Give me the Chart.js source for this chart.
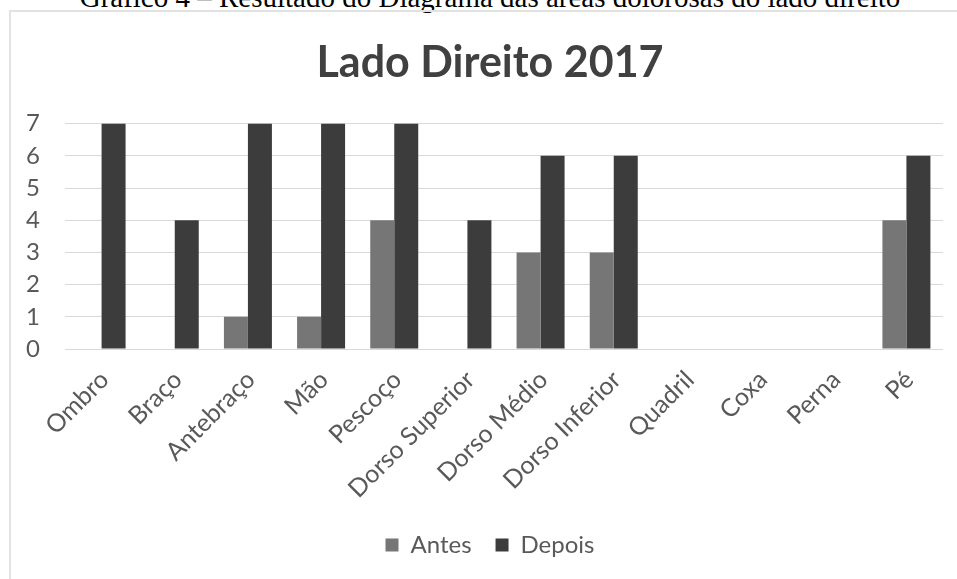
<!DOCTYPE html>
<html>
<head>
<meta charset="utf-8">
<script src="https://cdn.jsdelivr.net/npm/chart.js@4"></script>
<style>
  html, body { margin: 0; padding: 0; background: #fff; }
  body { width: 957px; height: 579px; position: relative; overflow: hidden; }
  #caption { position: absolute; left: 0; width: 980px; top: -17px; text-align: center;
    font-family: "Liberation Serif", serif; font-size: 29px; line-height: 29px; color: #000; white-space: nowrap; }
  #frame { position: absolute; left: 9px; top: 10px; width: 1000px; height: 700px;
    border-left: 2px solid #e2e2e2; border-top: 2px solid #e2e2e2; }
  #wrap { position: absolute; left: 0; top: 0; width: 957px; height: 579px; overflow: hidden; }
</style>
</head>
<body>
<div id="caption">Gráfico 4 – Resultado do Diagrama das áreas dolorosas do lado direito</div>
<div id="frame"></div>
<div id="wrap"><canvas id="c" width="963" height="579"></canvas></div>
<script>
const categories = ["Ombro", "Braço", "Antebraço", "Mão", "Pescoço", "Dorso Superior", "Dorso Médio", "Dorso Inferior", "Quadril", "Coxa", "Perna", "Pé"];
const antes = [0, 0, 1, 1, 4, 0, 3, 3, 0, 0, 0, 4];
const depois = [7, 4, 7, 7, 7, 4, 6, 6, 0, 0, 0, 6];
const yTicks = [0, 1, 2, 3, 4, 5, 6, 7];
const titleText = "Lado Direito 2017";
const seriesNames = ["Antes", "Depois"];

const FONT = "Lato";
new Chart(document.getElementById("c"), {
  type: "bar",
  data: {
    labels: categories,
    datasets: [
      { label: seriesNames[0], data: antes, backgroundColor: "#767676", borderWidth: 0,
        categoryPercentage: 0.656, barPercentage: 1.0 },
      { label: seriesNames[1], data: depois, backgroundColor: "#3c3c3c", borderWidth: 0,
        categoryPercentage: 0.656, barPercentage: 1.0 }
    ]
  },
  options: {
    responsive: false,
    animation: false,
    devicePixelRatio: 1,
    layout: { padding: { left: 17, right: 0, top: 0, bottom: 12 } },
    plugins: {
      tooltip: { enabled: false },
      title: {
        display: true, text: titleText, color: "#404040",
        font: { family: FONT, size: 43, weight: "bold" },
        padding: { top: 37, bottom: 35 }
      },
      legend: {
        position: "bottom",
        labels: {
          color: "#595959", font: { family: FONT, size: 24 },
          boxWidth: 13, boxHeight: 13, padding: 24
        }
      }
    },
    scales: {
      x: {
        grid: { display: false, drawTicks: false },
        border: { display: false },
        ticks: {
          color: "#595959", font: { family: FONT, size: 25 },
          maxRotation: 45, minRotation: 45, autoSkip: false, padding: 16, labelOffset: 3
        },
        afterFit: (s) => { s.height = 160; }
      },
      y: {
        min: 0, max: 7,
        afterBuildTicks: (s) => { s.ticks = yTicks.map(v => ({ value: v })); },
        grid: { color: "#d9d9d9", lineWidth: 1, drawTicks: false },
        border: { display: false },
        ticks: { color: "#595959", font: { family: FONT, size: 24 }, padding: 25 },
        afterFit: (s) => { s.width = 48; }
      },
      yRight: {
        position: "right",
        display: true,
        min: 0, max: 7,
        grid: { display: false, drawTicks: false },
        border: { display: false },
        ticks: { display: false },
        afterFit: (s) => { s.width = 20; }
      }
    }
  }
});
</script>
</body>
</html>
